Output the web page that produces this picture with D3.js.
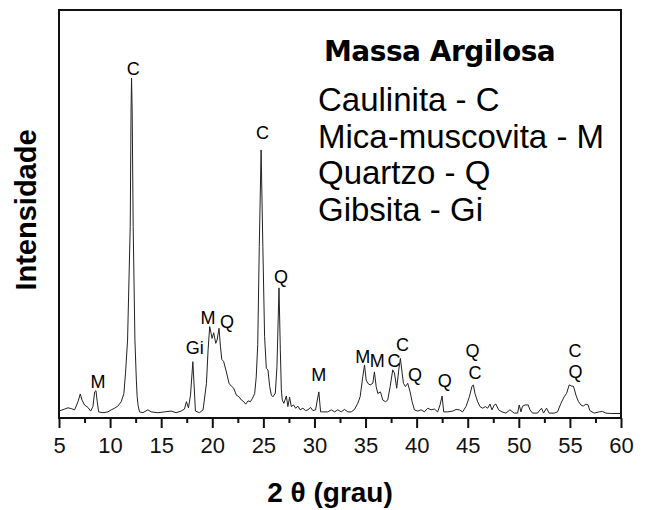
<!DOCTYPE html>
<html>
<head>
<meta charset="utf-8">
<script src="https://cdn.jsdelivr.net/npm/d3@7"></script>
<style>
  body { margin: 0; background: #fff; }
  text { font-family: "Liberation Sans", Arial, sans-serif; }
</style>
</head>
<body>
<svg id="xrd_chart"></svg>
<script>
// 2 theta positions (degrees)
var twoTheta = [
  5.0, 5.56, 5.88, 6.2, 6.53, 6.86, 7.08, 7.25, 7.5, 7.83, 8.1, 8.32, 8.49, 8.62, 8.74, 8.88,
  9.3, 9.79, 10.11, 10.44, 10.76, 11.09, 11.35, 11.51, 11.71, 11.97, 12.05, 12.1, 12.16, 12.26,
  12.43, 12.57, 12.65, 12.75, 12.88, 13.21, 13.7, 14.02, 14.67, 15.33, 15.97, 16.46, 16.95,
  17.28, 17.47, 17.67, 17.87, 18.1, 18.22, 18.35, 18.75, 19.1, 19.43, 19.59, 19.75, 19.88,
  19.98, 20.14, 20.34, 20.47, 20.66, 20.8, 20.93, 21.12, 21.38, 21.64, 21.87, 22.1, 22.36,
  22.62, 22.85, 23.08, 23.27, 23.5, 23.73, 23.93, 24.15, 24.3, 24.45, 24.6, 24.78, 24.95,
  25.12, 25.29, 25.45, 25.62, 25.78, 25.94, 26.17, 26.33, 26.53, 26.66, 26.76, 26.85, 27.01,
  27.25, 27.4, 27.57, 27.73, 27.96, 28.16, 28.38, 28.61, 28.87, 29.13, 29.36, 29.62, 29.85,
  30.11, 30.28, 30.43, 30.6, 30.82, 31.31, 31.64, 31.97, 32.29, 32.62, 32.94, 33.27, 33.6,
  33.92, 34.24, 34.47, 34.73, 34.9, 35.06, 35.22, 35.45, 35.71, 35.87, 36.04, 36.2, 36.46,
  36.69, 36.95, 37.17, 37.41, 37.66, 37.83, 38.05, 38.25, 38.41, 38.58, 38.71, 38.9, 39.13,
  39.36, 39.56, 39.78, 40.1, 40.44, 40.76, 41.08, 41.41, 41.74, 42.06, 42.29, 42.49, 42.65,
  43.04, 43.53, 43.86, 44.18, 44.5, 44.83, 45.16, 45.42, 45.55, 45.71, 45.97, 46.2, 46.46,
  46.72, 46.95, 47.18, 47.37, 47.6, 47.76, 48.02, 48.35, 48.74, 49.13, 49.55, 49.88, 50.04,
  50.21, 50.36, 50.63, 50.92, 51.09, 51.34, 51.83, 52.22, 52.42, 52.71, 52.97, 53.46, 53.79,
  54.12, 54.44, 54.67, 54.93, 55.19, 55.35, 55.59, 55.84, 56.08, 56.3, 56.56, 56.78, 56.95,
  57.37, 57.86, 58.19, 58.52, 59.0, 60.0
]

// intensity (arbitrary units) at each position
var intensity = [
  17, 22, 25, 23, 20, 40, 59, 44, 32, 26, 17, 28, 64, 67, 40, 15,
  13, 15, 20, 24, 29, 40, 60, 110, 191, 469, 755, 833, 755, 469,
  191, 93, 52, 29, 15, 13, 20, 15, 13, 15, 17, 13, 17,
  22, 40, 25, 56, 138, 81, 17, 13, 20, 85, 167, 224, 208,
  195, 209, 183, 191, 220, 175, 144, 138, 113, 85, 78, 73, 56,
  52, 44, 40, 34, 42, 40, 48, 60, 100, 180, 420, 657, 420,
  200, 122, 118, 77, 56, 52, 61, 126, 319, 167, 69, 44, 36,
  54, 28, 51, 28, 32, 24, 29, 20, 24, 18, 20, 26, 18,
  20, 44, 64, 15, 15, 15, 20, 15, 20, 15, 21, 15, 15,
  21, 36, 52, 101, 130, 93, 85, 81, 85, 113, 77, 60, 64,
  44, 40, 44, 77, 118, 110, 73, 118, 146, 110, 85, 77, 85,
  64, 40, 20, 17, 20, 15, 24, 20, 22, 15, 32, 54, 15,
  15, 17, 21, 20, 15, 28, 52, 78, 81, 60, 40, 28, 24,
  28, 24, 34, 20, 32, 34, 20, 15, 12, 20, 12, 12, 32,
  15, 29, 32, 32, 20, 12, 12, 24, 12, 24, 12, 12, 15,
  36, 52, 60, 81, 78, 78, 56, 40, 32, 29, 34, 32, 18,
  12, 15, 16, 12, 11, 11
]

// phase labels above the peaks: letter, 2 theta, intensity level of the baseline
var peakText  = ["M", "C", "Gi", "M", "Q", "C", "Q", "M", "M", "M", "C", "C", "Q", "Q", "Q", "C", "C", "Q"]
var peakTheta = [8.82, 12.27, 18.28, 19.58, 21.44, 24.91, 26.72, 30.41, 34.72, 36.15, 37.78, 38.61, 39.83, 42.74, 45.48, 45.7, 55.49, 55.54]
var peakLevel = [74, 841, 157, 230, 221, 684, 331, 91, 134, 125, 125, 165, 91, 76, 149, 95, 149, 99]

var majorTicks = [5, 10, 15, 20, 25, 30, 35, 40, 45, 50, 55, 60]
var minorTicks = [7.5, 12.5, 17.5, 22.5, 27.5, 32.5, 37.5, 42.5, 47.5, 52.5, 57.5]

var legendTitle = "Massa Argilosa"
var legendLines = ["Caulinita - C", "Mica-muscovita - M", "Quartzo - Q", "Gibsita - Gi"]

var dimensions = {
  width: 649,
  height: 510,
  margin: {
    top: 10,
    bottom: 92,
    right: 28,
    left: 59
  }
}
dimensions.boundedWidth = dimensions.width - dimensions.margin.left - dimensions.margin.right
dimensions.boundedHeight = dimensions.height - dimensions.margin.top - dimensions.margin.bottom

var dataset = d3.map(twoTheta, (t, i) => ({ theta: t, counts: intensity[i] }))

var xScale = d3.scaleLinear()
  .domain([5, 60])
  .range([0, dimensions.boundedWidth])

var yScale = d3.scaleLinear()
  .domain([0, 1000])
  .range([dimensions.boundedHeight, 0])

var svg = d3.select("#xrd_chart")
  .attr("width", dimensions.width)
  .attr("height", dimensions.height)

var bounds = svg.append("g")
  .attr("transform", `translate(${dimensions.margin.left},${dimensions.margin.top})`)

// the pattern
bounds.append("path")
  .datum(dataset)
  .attr("fill", "none")
  .attr("stroke", "#222")
  .attr("stroke-width", 1)
  .attr("stroke-linejoin", "round")
  .attr("d", d3.line()
    .x(d => xScale(d.theta))
    .y(d => yScale(d.counts))
  )

// peak labels
bounds.selectAll(".peak")
  .data(peakText)
  .enter()
  .append("text")
  .attr("class", "peak")
  .attr("x", (d, i) => xScale(peakTheta[i]))
  .attr("y", (d, i) => yScale(peakLevel[i]))
  .attr("text-anchor", "middle")
  .style("font-size", "18px")
  .text(d => d)

// frame
bounds.append("rect")
  .attr("width", dimensions.boundedWidth)
  .attr("height", dimensions.boundedHeight)
  .attr("fill", "none")
  .attr("stroke", "#111")
  .attr("stroke-width", 2)

// x axis: major ticks with labels, minor ticks without
var xAxis = d3.axisBottom(xScale)
  .tickValues(majorTicks)
  .tickSize(10)
  .tickPadding(9)
  .tickSizeOuter(0)

var xAxisG = bounds.append("g")
  .attr("transform", `translate(0,${dimensions.boundedHeight})`)
  .call(xAxis)
xAxisG.select(".domain").remove()
xAxisG.selectAll("line").attr("stroke", "#111").attr("stroke-width", 2)
xAxisG.selectAll("text")
  .style("font-size", "22px")
  .style("font-family", "Liberation Sans, Arial, sans-serif")
  .attr("fill", "#111")

var xMinor = bounds.append("g")
  .attr("transform", `translate(0,${dimensions.boundedHeight})`)
  .call(d3.axisBottom(xScale).tickValues(minorTicks).tickSize(5).tickFormat(""))
xMinor.select(".domain").remove()
xMinor.selectAll("line").attr("stroke", "#111").attr("stroke-width", 2)

// axis titles
svg.append("text")
  .attr("x", 330)
  .attr("y", 502)
  .attr("text-anchor", "middle")
  .style("font-size", "28px")
  .style("font-weight", "bold")
  .text("2 θ (grau)")

svg.append("text")
  .attr("transform", "translate(36,210) rotate(-90)")
  .attr("text-anchor", "middle")
  .style("font-size", "29px")
  .style("font-weight", "bold")
  .text("Intensidade")

// legend
svg.append("text")
  .attr("x", 324)
  .attr("y", 61)
  .style("font-family", "DejaVu Sans, sans-serif")
  .style("font-size", "28px")
  .style("font-weight", "bold")
  .style("letter-spacing", "-0.5px")
  .text(legendTitle)

svg.selectAll(".legendLine")
  .data(legendLines)
  .enter()
  .append("text")
  .attr("class", "legendLine")
  .attr("x", 318)
  .attr("y", (d, i) => 111 + i * 36.5)
  .style("font-size", "33px")
  .text(d => d)
</script>
</body>
</html>
